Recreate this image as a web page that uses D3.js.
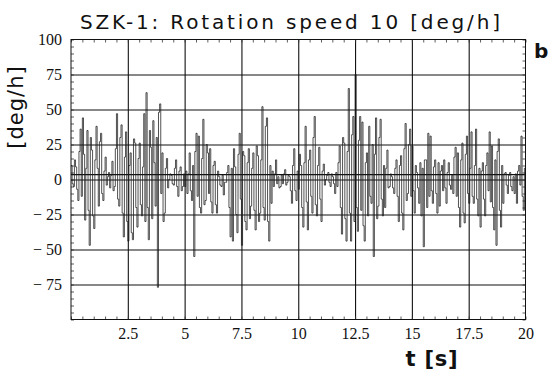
<!DOCTYPE html>
<html lang="en">
<head>
  <meta charset="UTF-8" />
  <title>SZK-1: Rotation speed</title>
  <script src="https://d3js.org/d3.v7.min.js"></script>
  <style>
    body {
      margin: 0;
      background: #fff;
    }
    svg {
      display: block;
    }
    .axis-label text {
      font-family: "Liberation Serif", serif;
      font-size: 16px;
      fill: #111;
    }
  </style>
</head>
<body>
  <svg id="chart" width="548" height="375"></svg>

  <script>
    const sampleStep = 0.05;
    const rateValues = [
      10, -3, -5, 14, 9, -7, -15, 20, 36, -12,
      44, 18, -29, 8, 35, -22, -47, 30, 21, -26,
      -35, 14, 38, 8, -19, 27, 33, -10, -15, 6,
      16, -4, 2, 5, -6, 3, 13, -8, -5, 22,
      47, -14, -19, 30, 39, -24, -41, 16, 34, -30,
      -44, 10, 19, -38, -43, 29, 26, -20, -34, 15,
      26, -18, -26, 9, 47, -30, 62, -20, -43, 35,
      23, -28, 42, 12, -19, 30, -77, 48, 54, -10,
      19, -30, -24, 8, 15, -6, 0, 4, 3, -3,
      -4, 8, 14, -5, -12, 6, 9, -8, -5, 4,
      -5, 6, -10, 4, 19, -8, -15, 10, -55, 20,
      33, -12, 31, -20, -24, 15, 43, -18, -15, 25,
      19, -10, 22, -16, -24, 10, 13, -18, -24, 6,
      2, -4, -5, 3, -11, -2, -2, 5, 10, -20,
      -41, 8, -44, 22, 9, -25, -38, 18, 33, -14,
      -47, 20, 17, -30, -36, 12, 22, -28, -19, 8,
      19, -22, -36, 24, 17, -30, -24, 14, 52, -20,
      -29, 38, 44, -30, -44, 10, -17, 6, -5, 4,
      14, -3, 2, -6, -5, 3, -3, 4, 7, -4,
      -2, 3, 2, -8, -17, 10, 22, -8, -15, 6,
      -7, 18, 10, -20, -34, 12, 38, -16, -36, 14,
      21, -12, -24, 30, 45, -18, -26, 10, 23, -14,
      -30, 6, 11, -4, 0, 3, 5, -2, -5, 4,
      2, -3, -10, 5, -5, 12, 24, -20, -39, 30,
      26, -28, -44, 20, 65, -24, -44, 32, 45, -30,
      75, -20, -37, 28, 45, -22, 41, -33, -44, 12,
      19, -26, 38, -12, -17, 25, -55, 18, 44, -28,
      -19, 30, 43, -14, -26, 10, -20, 8, 21, -6,
      -5, 4, 2, -6, -10, 8, 14, -12, -30, 10,
      17, -24, -36, 22, 40, -15, -10, 25, 36, -12,
      24, -8, -24, 10, 5, -6, -17, 12, -26, 8,
      -48, 14, 14, -20, 33, -12, 31, -8, -17, 9,
      14, -10, -24, 12, -19, 6, 10, -8, 14, -6,
      -17, 5, 12, -4, -7, 3, -10, 16, 23, -12,
      19, -20, -34, 14, 26, -24, -31, 18, 31, -10,
      -17, 8, 34, -12, -17, 10, 36, -14, -26, 8,
      -34, 6, 12, -14, -26, 10, 19, -8, 34, -16,
      24, -20, -36, 14, -47, 20, 29, -22, -34, 10,
      -17, 4, 5, -4, -10, 3, 5, -5, -8, 2,
      -10, 4, -17, 6, 10, -4, 31, -12, -22, 8
    ];
    const meanLevel = 3.5;

    const xTickValues = [2.5, 5, 7.5, 10, 12.5, 15, 17.5, 20];
    const yTickValues = [-75, -50, -25, 0, 25, 50, 75, 100];
    const xGridValues = [2.5, 5, 7.5, 10, 12.5, 15, 17.5];
    const yGridValues = [-75, -50, -25, 0, 25, 50, 75];

    const titleText = "SZK-1:  Rotation  speed  10 [deg/h]";
    const yTitle = "[deg/h]";
    const xTitle = "t [s]";

    const svg = d3.select("#chart");
    const plotLeft = 71, plotRight = 525.5, plotTop = 39.5, plotBottom = 319.5;

    const x = d3.scaleLinear().domain([0, 20]).range([plotLeft, plotRight]);
    const y = d3.scaleLinear().domain([-100, 100]).range([plotBottom, plotTop]);

    // grid
    svg.append("g")
      .attr("transform", `translate(0,${plotBottom})`)
      .call(d3.axisBottom(x).tickValues(xGridValues).tickSize(-(plotBottom - plotTop)).tickFormat(""))
      .call(g => g.select(".domain").remove())
      .call(g => g.selectAll("line").attr("stroke", "#111").attr("stroke-width", 1.1));

    svg.append("g")
      .attr("transform", `translate(${plotLeft},0)`)
      .call(d3.axisLeft(y).tickValues(yGridValues).tickSize(-(plotRight - plotLeft)).tickFormat(""))
      .call(g => g.select(".domain").remove())
      .call(g => g.selectAll("line").attr("stroke", "#111").attr("stroke-width", 1.1));

    // minor ticks on all four sides
    const xMinor = d3.range(0, 20.01, 0.5);
    const yMinor = d3.range(-100, 100.01, 5);
    const minorStyle = g => {
      g.select(".domain").remove();
      g.selectAll("line").attr("stroke", "#333").attr("stroke-width", 0.8);
    };
    svg.append("g").attr("transform", `translate(0,${plotBottom})`)
      .call(d3.axisBottom(x).tickValues(xMinor).tickSize(-3).tickFormat("")).call(minorStyle);
    svg.append("g").attr("transform", `translate(0,${plotTop})`)
      .call(d3.axisTop(x).tickValues(xMinor).tickSize(-3).tickFormat("")).call(minorStyle);
    svg.append("g").attr("transform", `translate(${plotLeft},0)`)
      .call(d3.axisLeft(y).tickValues(yMinor).tickSize(-3).tickFormat("")).call(minorStyle);
    svg.append("g").attr("transform", `translate(${plotRight},0)`)
      .call(d3.axisRight(y).tickValues(yMinor).tickSize(-3).tickFormat("")).call(minorStyle);

    // mean line just above zero
    svg.append("line")
      .attr("x1", x(0)).attr("x2", x(20))
      .attr("y1", y(meanLevel)).attr("y2", y(meanLevel))
      .attr("stroke", "#111")
      .attr("stroke-width", 1.1);

    // signal
    const points = rateValues.map((v, i) => ({ t: i * sampleStep, v: v }));
    points.push({ t: 20, v: rateValues[rateValues.length - 1] });

    const line = d3.line()
      .x(d => x(d.t))
      .y(d => y(d.v))
      .curve(d3.curveStepAfter);

    svg.append("path")
      .datum(points)
      .attr("d", line)
      .attr("fill", "none")
      .attr("stroke", "#1a1a1a")
      .attr("stroke-width", 0.85)
      .attr("stroke-opacity", 0.9);

    // frame
    svg.append("rect")
      .attr("x", plotLeft).attr("y", plotTop)
      .attr("width", plotRight - plotLeft).attr("height", plotBottom - plotTop)
      .attr("fill", "none")
      .attr("stroke", "#111")
      .attr("stroke-width", 1);

    // tick labels
    const fmt = v => v < 0 ? "\u2212 " + Math.abs(v) : String(v);

    svg.append("g")
      .attr("class", "axis-label")
      .attr("transform", `translate(${plotLeft},0)`)
      .call(d3.axisLeft(y).tickValues(yTickValues).tickSize(0).tickPadding(9).tickFormat(fmt))
      .call(g => g.select(".domain").remove())
      .call(g => g.selectAll("text").attr("font-family", null).attr("font-size", null));

    svg.append("g")
      .attr("class", "axis-label")
      .attr("transform", `translate(0,${plotBottom})`)
      .call(d3.axisBottom(x).tickValues(xTickValues).tickSize(0).tickPadding(8).tickFormat(d3.format("")))
      .call(g => g.select(".domain").remove())
      .call(g => g.selectAll("text").attr("font-family", null).attr("font-size", null));

    // titles
    svg.append("text")
      .attr("x", 80)
      .attr("y", 29)
      .attr("textLength", 420)
      .attr("lengthAdjust", "spacing")
      .attr("font-family", "DejaVu Sans, sans-serif")
      .attr("font-size", 20)
      .attr("fill", "#111")
      .text(titleText);

    svg.append("text")
      .attr("transform", "translate(23,107) rotate(-90)")
      .attr("text-anchor", "middle")
      .attr("font-family", "DejaVu Sans, sans-serif")
      .attr("font-size", 21)
      .attr("letter-spacing", 1)
      .attr("fill", "#111")
      .text(yTitle);

    svg.append("text")
      .attr("x", 432)
      .attr("y", 366)
      .attr("text-anchor", "middle")
      .attr("font-family", "DejaVu Sans, sans-serif")
      .attr("font-size", 21)
      .attr("font-weight", "bold")
      .attr("letter-spacing", 0.8)
      .attr("fill", "#111")
      .text(xTitle);

    svg.append("text")
      .attr("x", 534)
      .attr("y", 58)
      .attr("font-family", "DejaVu Sans, sans-serif")
      .attr("font-size", 20)
      .attr("font-weight", "bold")
      .attr("fill", "#111")
      .text("b");
  </script>
</body>
</html>
